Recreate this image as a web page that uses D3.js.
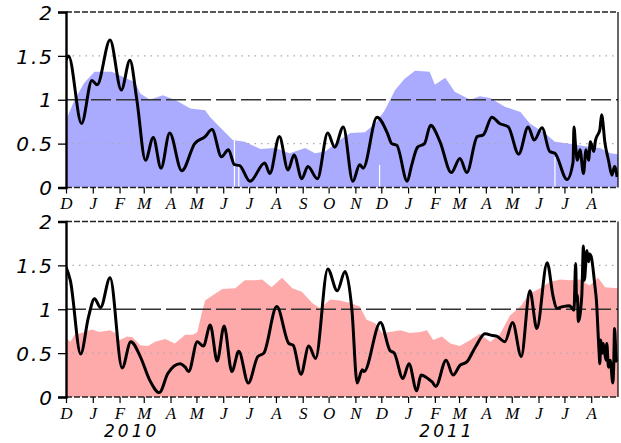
<!DOCTYPE html>
<html>
<head>
<meta charset="utf-8">
<script src="https://cdn.jsdelivr.net/npm/d3@7"></script>
<style>
  body { margin: 0; background: #fff; }
  svg { display: block; }
  .ylab { font-family: "DejaVu Sans", sans-serif; font-style: italic; font-size: 20px; letter-spacing: 2px; }
  .mlab { font-family: "Liberation Serif", serif; font-style: italic; font-size: 17px; }
  .yearlab { font-family: "DejaVu Sans", sans-serif; font-style: italic; font-size: 17px; letter-spacing: 3px; }
</style>
</head>
<body>
<svg id="chart" width="621" height="443"></svg>
<script>
// ---- data ----
const startDate = "2009-12-01";
const endDate = "2011-09-01";
const yTicks = [0, 0.5, 1, 1.5, 2];
const yLabels = ["0", "0.5", "1", "1.5", "2"];
const yearLabels = ["2010", "2011"];
const yearLabelDates = ["2010-02-15", "2011-02-15"];

// top panel: shaded band (blue) and black curve
const topFill = [
  ["2009-12-01", 0.77], ["2009-12-11", 1.0], ["2009-12-22", 1.19], ["2010-01-03", 1.32],
  ["2010-01-23", 1.32], ["2010-02-07", 1.25], ["2010-02-19", 1.2], ["2010-02-25", 1.07],
  ["2010-03-08", 1.0], ["2010-03-23", 1.05], ["2010-04-06", 1.0], ["2010-04-24", 0.9],
  ["2010-05-11", 0.88], ["2010-05-17", 0.8], ["2010-05-28", 0.69], ["2010-06-12", 0.54],
  ["2010-06-26", 0.52], ["2010-07-14", 0.44], ["2010-07-31", 0.45], ["2010-08-17", 0.39],
  ["2010-09-04", 0.45], ["2010-09-15", 0.39], ["2010-09-27", 0.41], ["2010-10-14", 0.54],
  ["2010-10-26", 0.62], ["2010-11-12", 0.63], ["2010-11-24", 0.73], ["2010-12-05", 0.88],
  ["2010-12-17", 1.11], ["2010-12-28", 1.24], ["2011-01-09", 1.33], ["2011-01-26", 1.32],
  ["2011-02-01", 1.17], ["2011-02-13", 1.25], ["2011-02-24", 1.09], ["2011-03-14", 1.0],
  ["2011-03-25", 1.04], ["2011-04-06", 1.02], ["2011-04-23", 0.92], ["2011-05-11", 0.86],
  ["2011-05-22", 0.73], ["2011-06-08", 0.62], ["2011-06-20", 0.52], ["2011-07-07", 0.5],
  ["2011-07-25", 0.47], ["2011-08-11", 0.45], ["2011-08-23", 0.39], ["2011-09-01", 0.38]
];
const topGaps = [["2010-06-14", 0.54], ["2010-06-19", 0.27], ["2010-11-29", 0.26], ["2011-06-20", 0.35]];
const topLine = [
  ["2009-12-01", 1.45], ["2009-12-04", 1.5], ["2009-12-19", 0.73], ["2009-12-31", 1.22],
  ["2010-01-06", 1.17], ["2010-01-21", 1.68], ["2010-02-03", 1.11], ["2010-02-13", 1.45],
  ["2010-02-21", 1.0], ["2010-03-03", 0.31], ["2010-03-12", 0.57], ["2010-03-21", 0.22],
  ["2010-03-31", 0.62], ["2010-04-14", 0.19], ["2010-04-29", 0.5], ["2010-05-11", 0.58],
  ["2010-05-19", 0.66], ["2010-05-30", 0.35], ["2010-06-07", 0.43], ["2010-06-14", 0.26],
  ["2010-06-20", 0.25], ["2010-07-02", 0.07], ["2010-07-19", 0.28], ["2010-07-25", 0.16],
  ["2010-08-05", 0.58], ["2010-08-15", 0.2], ["2010-08-22", 0.37], ["2010-08-31", 0.1],
  ["2010-09-07", 0.24], ["2010-09-18", 0.1], ["2010-09-30", 0.62], ["2010-10-08", 0.46],
  ["2010-10-18", 0.69], ["2010-10-29", 0.07], ["2010-11-06", 0.26], ["2010-11-10", 0.22],
  ["2010-11-26", 0.8], ["2010-12-08", 0.62], ["2010-12-13", 0.5], ["2010-12-19", 0.48],
  ["2010-12-31", 0.07], ["2011-01-05", 0.25], ["2011-01-12", 0.46], ["2011-01-20", 0.5],
  ["2011-01-27", 0.71], ["2011-02-07", 0.52], ["2011-02-20", 0.17], ["2011-03-02", 0.33],
  ["2011-03-10", 0.17], ["2011-03-22", 0.58], ["2011-03-29", 0.6], ["2011-04-08", 0.8],
  ["2011-04-17", 0.73], ["2011-04-27", 0.69], ["2011-05-09", 0.38], ["2011-05-20", 0.69],
  ["2011-05-27", 0.54], ["2011-06-05", 0.68], ["2011-06-14", 0.41], ["2011-06-20", 0.39],
  ["2011-07-04", 0.09], ["2011-07-11", 0.29], ["2011-07-12", 0.69], ["2011-07-14", 0.46],
  ["2011-07-16", 0.31], ["2011-07-19", 0.43], ["2011-07-23", 0.16], ["2011-07-26", 0.43],
  ["2011-07-29", 0.31], ["2011-07-31", 0.52], ["2011-08-04", 0.41], ["2011-08-06", 0.54],
  ["2011-08-11", 0.66], ["2011-08-13", 0.83], ["2011-08-17", 0.5], ["2011-08-21", 0.31],
  ["2011-08-25", 0.14], ["2011-08-28", 0.24], ["2011-08-31", 0.12]
];

// bottom panel: shaded band (pink) and black curve
const bottomFill = [
  ["2009-12-01", 0.67], ["2009-12-06", 0.63], ["2009-12-11", 0.71], ["2009-12-23", 0.74],
  ["2009-12-31", 0.77], ["2010-01-09", 0.74], ["2010-01-21", 0.76], ["2010-01-27", 0.73],
  ["2010-02-01", 0.65], ["2010-02-10", 0.69], ["2010-02-16", 0.68], ["2010-02-25", 0.59],
  ["2010-03-06", 0.58], ["2010-03-14", 0.63], ["2010-03-26", 0.66], ["2010-04-06", 0.61],
  ["2010-04-18", 0.71], ["2010-04-27", 0.71], ["2010-05-02", 0.74], ["2010-05-07", 0.95],
  ["2010-05-11", 1.1], ["2010-05-20", 1.16], ["2010-05-31", 1.23], ["2010-06-15", 1.24],
  ["2010-06-26", 1.33], ["2010-07-08", 1.33], ["2010-07-16", 1.34], ["2010-07-27", 1.25],
  ["2010-08-08", 1.36], ["2010-08-20", 1.24], ["2010-08-31", 1.2], ["2010-09-12", 1.07],
  ["2010-09-21", 1.01], ["2010-10-03", 1.11], ["2010-10-14", 1.1], ["2010-10-26", 1.07],
  ["2010-11-06", 1.03], ["2010-11-14", 0.88], ["2010-11-24", 0.84], ["2010-12-02", 0.73],
  ["2010-12-11", 0.74], ["2010-12-23", 0.76], ["2011-01-03", 0.73], ["2011-01-15", 0.74],
  ["2011-01-23", 0.76], ["2011-01-30", 0.65], ["2011-02-09", 0.69], ["2011-02-19", 0.61],
  ["2011-03-02", 0.58], ["2011-03-14", 0.65], ["2011-03-25", 0.72], ["2011-04-06", 0.63],
  ["2011-04-17", 0.71], ["2011-04-29", 0.93], ["2011-05-11", 1.03], ["2011-05-22", 1.18],
  ["2011-06-03", 1.24], ["2011-06-14", 1.31], ["2011-06-26", 1.34], ["2011-07-07", 1.33],
  ["2011-07-19", 1.34], ["2011-07-30", 1.27], ["2011-08-09", 1.36], ["2011-08-17", 1.25],
  ["2011-09-01", 1.24]
];
const bottomLine = [
  ["2009-12-01", 1.48], ["2009-12-06", 1.33], ["2009-12-18", 0.49], ["2009-12-27", 0.91],
  ["2010-01-03", 1.12], ["2010-01-10", 1.02], ["2010-01-21", 1.36], ["2010-02-04", 0.33],
  ["2010-02-14", 0.63], ["2010-02-25", 0.46], ["2010-03-08", 0.19], ["2010-03-19", 0.05],
  ["2010-03-29", 0.27], ["2010-04-12", 0.38], ["2010-04-18", 0.34], ["2010-04-22", 0.29],
  ["2010-05-02", 0.63], ["2010-05-09", 0.58], ["2010-05-17", 0.82], ["2010-05-25", 0.41],
  ["2010-06-02", 0.81], ["2010-06-11", 0.29], ["2010-06-19", 0.52], ["2010-06-30", 0.16],
  ["2010-07-11", 0.46], ["2010-07-18", 0.5], ["2010-08-02", 1.03], ["2010-08-16", 0.61],
  ["2010-08-21", 0.59], ["2010-08-30", 0.26], ["2010-09-08", 0.58], ["2010-09-16", 0.44],
  ["2010-09-30", 1.46], ["2010-10-11", 1.21], ["2010-10-20", 1.43], ["2010-10-28", 0.99],
  ["2010-11-03", 0.16], ["2010-11-09", 0.31], ["2010-11-11", 0.29], ["2010-11-30", 0.85],
  ["2010-12-11", 0.53], ["2010-12-16", 0.5], ["2010-12-26", 0.21], ["2011-01-02", 0.38],
  ["2011-01-11", 0.07], ["2011-01-16", 0.25], ["2011-01-24", 0.21], ["2011-01-29", 0.17],
  ["2011-02-02", 0.12], ["2011-02-14", 0.42], ["2011-02-22", 0.25], ["2011-03-02", 0.36],
  ["2011-03-10", 0.4], ["2011-03-20", 0.57], ["2011-03-31", 0.72], ["2011-04-09", 0.7],
  ["2011-04-14", 0.69], ["2011-04-23", 0.63], ["2011-05-02", 0.85], ["2011-05-12", 0.46],
  ["2011-05-22", 1.21], ["2011-05-30", 0.78], ["2011-06-11", 1.53], ["2011-06-18", 1.14],
  ["2011-06-22", 1.01], ["2011-06-29", 1.03], ["2011-07-07", 1.04], ["2011-07-12", 0.99],
  ["2011-07-14", 1.52], ["2011-07-15", 1.1], ["2011-07-16", 1.16], ["2011-07-17", 0.86],
  ["2011-07-21", 1.14], ["2011-07-23", 1.72], ["2011-07-24", 1.33], ["2011-07-27", 1.67],
  ["2011-07-29", 1.54], ["2011-07-30", 1.63], ["2011-08-01", 1.6], ["2011-08-05", 1.29],
  ["2011-08-07", 1.1], ["2011-08-10", 0.53], ["2011-08-11", 0.38], ["2011-08-12", 0.65],
  ["2011-08-14", 0.5], ["2011-08-15", 0.61], ["2011-08-18", 0.42], ["2011-08-19", 0.61],
  ["2011-08-21", 0.34], ["2011-08-23", 0.42], ["2011-08-26", 0.16], ["2011-08-27", 0.34],
  ["2011-08-28", 0.78], ["2011-08-30", 0.42], ["2011-08-31", 0.4]
];

// ---- drawing ----
const parse = d3.utcParse("%Y-%m-%d");
const svg = d3.select("#chart");

const x = d3.scaleUtc()
  .domain([parse(startDate), parse(endDate)])
  .range([66, 618]);

const months = d3.utcMonth.range(parse(startDate), parse(endDate));

function drawPanel(id, top, bottom, fillData, lineData, fillColor, gaps, showYears) {
  const y = d3.scaleLinear().domain([0, 2]).range([bottom, top]);
  const g = svg.append("g");

  g.append("clipPath").attr("id", "clip-" + id)
    .append("rect")
    .attr("x", x.range()[0]).attr("y", top)
    .attr("width", x.range()[1] - x.range()[0]).attr("height", bottom - top);

  const plot = g.append("g").attr("clip-path", `url(#clip-${id})`);

  const area = d3.area()
    .x(d => x(parse(d[0])))
    .y0(y(0))
    .y1(d => y(d[1]));
  plot.append("path").datum(fillData)
    .attr("d", area)
    .attr("fill", fillColor);

  plot.selectAll(".gap").data(gaps).enter().append("line")
    .attr("x1", d => x(parse(d[0]))).attr("x2", d => x(parse(d[0])))
    .attr("y1", y(0)).attr("y2", d => y(d[1]))
    .attr("stroke", "#fff").attr("stroke-width", 1.2);

  // dotted grid at 0.5 and 1.5, dashed reference at 1
  plot.selectAll(".grid").data([0.5, 1.5]).enter().append("line")
    .attr("x1", x.range()[0]).attr("x2", x.range()[1])
    .attr("y1", d => y(d)).attr("y2", d => y(d))
    .attr("stroke", "#aaa").attr("stroke-width", 1.2)
    .attr("stroke-dasharray", "1.5,5");
  plot.append("line")
    .attr("x1", x.range()[0]).attr("x2", x.range()[1])
    .attr("y1", y(1)).attr("y2", y(1))
    .attr("stroke", "#333").attr("stroke-width", 1.3)
    .attr("stroke-dasharray", "20,5");

  const line = d3.line()
    .x(d => x(parse(d[0])))
    .y(d => y(d[1]))
    .curve(d3.curveMonotoneX);
  plot.append("path").datum(lineData)
    .attr("d", line)
    .attr("fill", "none")
    .attr("stroke", "#000")
    .attr("stroke-width", 3)
    .attr("stroke-linejoin", "round");

  // frame
  g.selectAll(".hb").data([top, bottom]).enter().append("line")
    .attr("x1", x.range()[0]).attr("x2", x.range()[1])
    .attr("y1", d => d).attr("y2", d => d)
    .attr("stroke", "#222").attr("stroke-width", 1.6)
    .attr("stroke-dasharray", "6,2");
  g.append("line")
    .attr("x1", x.range()[1]).attr("x2", x.range()[1])
    .attr("y1", top).attr("y2", bottom)
    .attr("stroke", "#000").attr("stroke-width", 1.2);

  // y axis
  const yAxis = d3.axisLeft(y).tickValues(yTicks).tickSize(8).tickFormat((d, i) => yLabels[i]);
  const ya = g.append("g").attr("transform", `translate(${x.range()[0]},0)`).call(yAxis);
  ya.select(".domain").attr("stroke", "#000").attr("stroke-width", 2.4);
  ya.selectAll(".tick line").attr("stroke", "#000").attr("stroke-width", 1.3);
  ya.selectAll(".tick text").attr("class", "ylab").attr("x", -12).attr("dy", "0.36em")
    .attr("fill", "#000");

  // month axis
  const xAxis = d3.axisBottom(x).tickValues(months).tickSize(6)
    .tickFormat(d => d3.utcFormat("%B")(d)[0]);
  const xa = g.append("g").attr("transform", `translate(0,${bottom})`).call(xAxis);
  xa.select(".domain").remove();
  xa.selectAll(".tick line").attr("stroke", "#000").attr("stroke-width", 1.2);
  xa.selectAll(".tick text").attr("class", "mlab").attr("y", 8).attr("dy", "0.8em").attr("fill", "#000");

  if (showYears) {
    g.selectAll(".yr").data(yearLabels).enter().append("text")
      .attr("class", "yearlab")
      .attr("x", (d, i) => x(parse(yearLabelDates[i])))
      .attr("y", bottom + 40)
      .attr("text-anchor", "middle")
      .text(d => d);
  }
}

drawPanel("top", 12, 187.5, topFill, topLine, "#aaaaff", topGaps, false);
drawPanel("bottom", 221.5, 397, bottomFill, bottomLine, "#ffaaaa", [], true);
</script>
</body>
</html>
